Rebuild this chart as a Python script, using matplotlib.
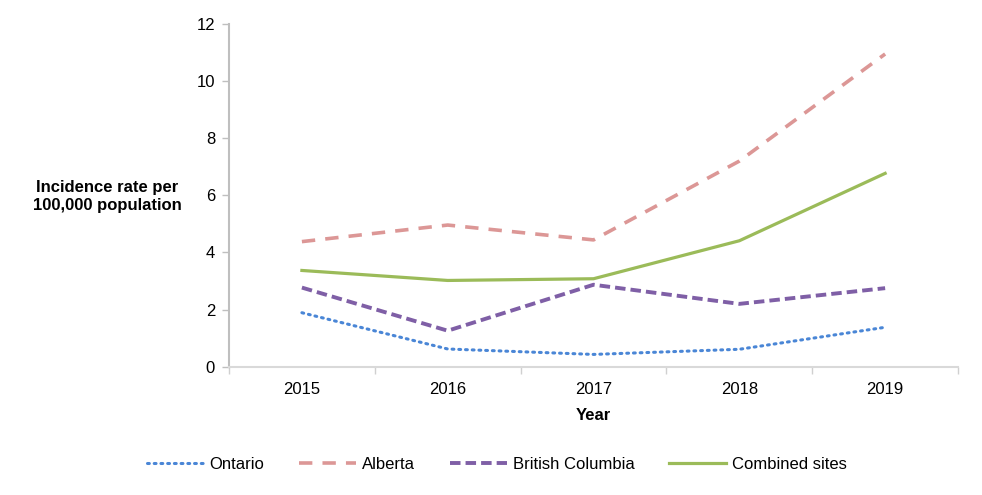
import matplotlib.pyplot as plt
import numpy as np

plt.rcParams['font.family'] = ['Liberation Sans', 'DejaVu Sans']

years = ['2015', '2016', '2017', '2018', '2019']
ontario = [1.89, 0.62, 0.43, 0.61, 1.38]
alberta = [4.38, 4.96, 4.44, 7.2, 10.95]
british_columbia = [2.77, 1.26, 2.87, 2.2, 2.75]
combined = [3.37, 3.02, 3.08, 4.41, 6.77]

fig = plt.figure(figsize=(9.82, 4.95), dpi=100)
ax = fig.add_axes([0.2332, 0.2592, 0.7424, 0.6923])

x = np.arange(len(years))
ax.plot(x, ontario, color='#4a86d6', lw=2.2, linestyle=(0, (0.6, 1.6)),
        dash_capstyle='round', label='Ontario')
ax.plot(x, alberta, color='#dc9796', lw=2.6, linestyle=(0, (3.7, 2.8)),
        label='Alberta')
ax.plot(x, british_columbia, color='#7f5fa6', lw=2.8, linestyle=(0, (2.7, 1.3)),
        label='British Columbia')
ax.plot(x, combined, color='#9bbb59', lw=2.3, label='Combined sites')

ax.set_xlim(-0.5, len(years) - 0.5)
ax.set_ylim(0, 12)
ax.set_yticks(range(0, 13, 2))
ax.set_xticks(x)
ax.set_xticklabels(years)
ax.set_xticks(np.arange(-0.5, len(years)), minor=True)
ax.tick_params(axis='x', which='major', length=0, labelsize=12, pad=11)
ax.tick_params(axis='x', which='minor', length=5, color='#d0d0d0', width=1)
ax.tick_params(axis='y', length=5, color='#bfbfbf', width=1, labelsize=12, pad=5)

for s in ['top', 'right']:
    ax.spines[s].set_visible(False)
ax.spines['left'].set_color('#bfbfbf')
ax.spines['left'].set_linewidth(1.5)
ax.spines['bottom'].set_color('#d9d9d9')
ax.spines['bottom'].set_linewidth(1.5)

ax.set_xlabel('Year', fontsize=12, fontweight='bold', labelpad=8)
fig.text(0.109, 0.604, 'Incidence rate per\n100,000 population', ha='center',
         va='center', fontsize=12, fontweight='bold', linespacing=1.25)

fig.legend(loc='center', bbox_to_anchor=(0.506, 0.061), ncol=4, frameon=False,
           fontsize=12, handlelength=3.4, columnspacing=2.1, handletextpad=0.36)

fig.savefig('out.png', dpi=100)
